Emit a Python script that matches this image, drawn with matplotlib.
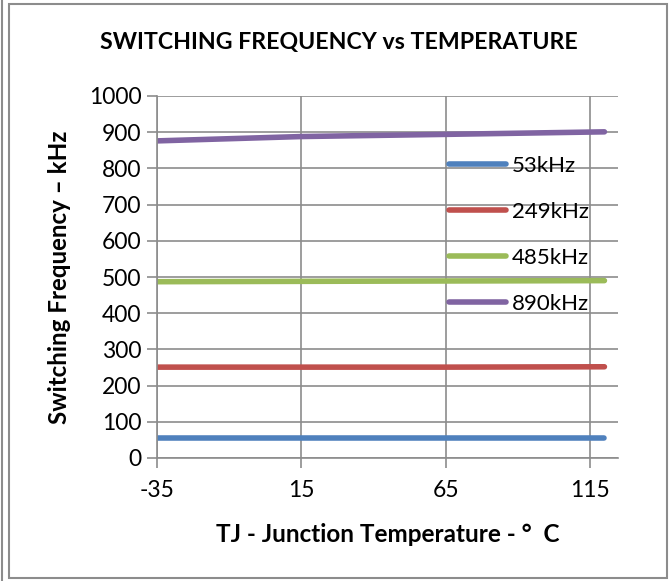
import matplotlib
matplotlib.use("Agg")
import matplotlib.pyplot as plt
from matplotlib.patches import Rectangle
from matplotlib.lines import Line2D

plt.rcParams['font.family'] = ['Lato', 'DejaVu Sans']
plt.rcParams['axes.unicode_minus'] = False

# junction temperature (C) and measured switching frequency (kHz)
temps = [-35, 15, 65, 120]
f53 = [56, 56, 56, 56]
f249 = [251, 251, 251, 252]
f485 = [487, 488, 489, 490]
f890 = [876, 888, 894, 901]

series = [("53kHz", f53, "#4F81BD"),
          ("249kHz", f249, "#C0504D"),
          ("485kHz", f485, "#9BBB59"),
          ("890kHz", f890, "#8064A2")]

xticks = [-35, 15, 65, 115]
yticks = list(range(0, 1001, 100))

fig = plt.figure(figsize=(6.7, 5.81), dpi=100)
ax = fig.add_axes([157/670, 1-458/581, (618-157)/670, (458-96)/581])

for label, vals, col in series:
    ax.plot(temps, vals, color=col, lw=4, solid_capstyle='round', label=label)

ax.set_xlim(-35, 124.7)
ax.set_ylim(0, 1000)
ax.set_xticks(xticks)
ax.set_yticks(yticks)
ax.grid(True, color='#8c8c8c', lw=1.2)
ax.set_axisbelow(True)
for s in ['top', 'right']:
    ax.spines[s].set_visible(False)
for s in ['left', 'bottom']:
    ax.spines[s].set_color('#8c8c8c')
    ax.spines[s].set_linewidth(1.2)
ax.tick_params(axis='both', colors='#8c8c8c', length=7, width=1.2,
               labelcolor='black', labelsize=16.5)
ax.tick_params(axis='x', pad=9)
ax.tick_params(axis='y', pad=4)

fig.text(339/670, 1-42/581, "SWITCHING FREQUENCY vs TEMPERATURE",
         ha='center', va='center', fontsize=16.7, fontweight='bold')
fig.text(60/670, 1-277/581, "Switching Frequency \u2013 kHz", rotation=90,
         ha='center', va='center', fontsize=17.4, fontweight='bold')
fig.text(388/670, 1-535/581, "TJ - Junction Temperature - \u00b0  C",
         ha='center', va='center', fontsize=17.5, fontweight='bold')

ax.legend(loc='upper left', bbox_to_anchor=(440/670, 1-147/581),
          bbox_transform=fig.transFigure, frameon=False, fontsize=16,
          handlelength=2.55, labelspacing=1.17, handletextpad=0.3,
          borderaxespad=0)

# outer chart border
fig.patches.append(Rectangle((9/670, 3/581), 658/670, 574/581, fill=False,
                             edgecolor='#8c8c8c', lw=1.5,
                             transform=fig.transFigure))
fig.add_artist(Line2D([1.5/670, 1.5/670], [0, 1], color='#8c8c8c', lw=1.5,
                      transform=fig.transFigure))

fig.savefig("out.png", dpi=100)
